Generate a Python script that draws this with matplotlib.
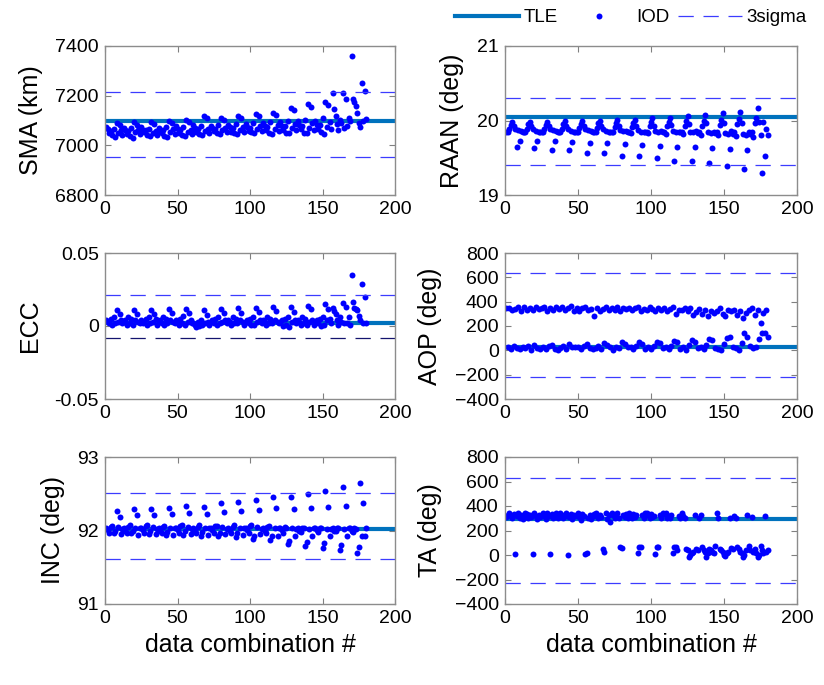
import numpy as np
import matplotlib
matplotlib.use("Agg")
import matplotlib.pyplot as plt
from matplotlib.lines import Line2D

plt.rcParams['font.family'] = ['Liberation Sans', 'DejaVu Sans']
plt.rcParams['lines.scale_dashes'] = False

# IOD estimates, 15 groups of 12 data combinations each
sma = [
    [7072, 7064, 7050, 7058, 7040, 7066, 7034, 7088, 7048, 7080, 7060, 7042],
    [7068, 7060, 7046, 7056, 7036, 7070, 7030, 7092, 7052, 7082, 7062, 7044],
    [7074, 7062, 7052, 7060, 7042, 7066, 7036, 7094, 7050, 7086, 7058, 7040],
    [7070, 7058, 7048, 7062, 7038, 7072, 7032, 7098, 7054, 7088, 7064, 7046],
    [7076, 7066, 7050, 7060, 7040, 7074, 7036, 7104, 7052, 7094, 7062, 7044],
    [7080, 7070, 7054, 7064, 7046, 7076, 7040, 7118, 7058, 7110, 7066, 7050],
    [7078, 7068, 7056, 7066, 7048, 7080, 7044, 7112, 7060, 7104, 7070, 7052],
    [7082, 7072, 7054, 7068, 7050, 7084, 7046, 7118, 7062, 7110, 7072, 7054],
    [7086, 7074, 7058, 7070, 7052, 7088, 7048, 7126, 7064, 7118, 7076, 7056],
    [7088, 7076, 7060, 7072, 7050, 7092, 7046, 7132, 7066, 7124, 7080, 7058],
    [7092, 7078, 7062, 7076, 7048, 7098, 7050, 7152, 7068, 7142, 7084, 7060],
    [7096, 7080, 7064, 7078, 7050, 7104, 7048, 7166, 7070, 7156, 7088, 7062],
    [7100, 7082, 7066, 7080, 7052, 7110, 7046, 7176, 7072, 7162, 7092, 7064],
    [7212, 7145, 7120, 7084, 7062, 7104, 7090, 7212, 7070, 7188, 7076, 7110],
    [7100, 7360, 7188, 7175, 7160, 7130, 7090, 7075, 7252, 7100, 7219, 7106],
]
raan = [
    [19.85, 19.84, 19.88, 19.94, 19.98, 19.93, 19.89, 19.64, 19.87, 19.73, 19.86, 19.85],
    [19.84, 19.85, 19.89, 19.95, 19.98, 19.92, 19.88, 19.63, 19.86, 19.73, 19.85, 19.84],
    [19.85, 19.84, 19.88, 19.94, 19.98, 19.93, 19.89, 19.61, 19.87, 19.73, 19.86, 19.85],
    [19.84, 19.85, 19.89, 19.95, 19.99, 19.92, 19.88, 19.60, 19.86, 19.71, 19.85, 19.84],
    [19.85, 19.84, 19.90, 19.95, 19.99, 19.93, 19.89, 19.57, 19.87, 19.70, 19.86, 19.85],
    [19.84, 19.85, 19.90, 19.96, 20.00, 19.92, 19.88, 19.57, 19.86, 19.70, 19.85, 19.84],
    [19.85, 19.84, 19.91, 19.96, 20.01, 19.93, 19.87, 19.53, 19.86, 19.68, 19.86, 19.84],
    [19.84, 19.83, 19.91, 19.97, 20.01, 19.92, 19.87, 19.52, 19.85, 19.67, 19.85, 19.85],
    [19.85, 19.83, 19.92, 19.98, 20.03, 19.93, 19.86, 19.49, 19.85, 19.66, 19.86, 19.84],
    [19.84, 19.82, 19.92, 19.98, 20.04, 19.94, 19.86, 19.46, 19.84, 19.65, 19.85, 19.84],
    [19.85, 19.82, 19.93, 20.00, 20.06, 19.95, 19.85, 19.46, 19.84, 19.65, 19.86, 19.83],
    [19.84, 19.81, 19.93, 20.00, 20.08, 19.96, 19.84, 19.43, 19.83, 19.63, 19.85, 19.83],
    [19.85, 19.80, 19.94, 20.01, 20.10, 19.97, 19.83, 19.39, 19.82, 19.62, 19.86, 19.82],
    [19.84, 19.79, 19.95, 20.02, 20.12, 19.97, 19.82, 19.35, 19.81, 19.60, 19.85, 19.82],
    [19.85, 19.78, 19.96, 20.03, 20.17, 19.98, 19.80, 19.29, 19.98, 19.53, 19.88, 19.80],
]
ecc = [
    [0.004, 0.003, 0.002, 0.005, 0.001, 0.006, 0.002, 0.0107, 0.003, 0.008, 0.004, 0.002],
    [0.003, 0.004, 0.001, 0.006, 0.002, 0.005, 0.001, 0.0109, 0.004, 0.0085, 0.003, 0.002],
    [0.004, 0.002, 0.003, 0.005, 0.001, 0.006, 0.002, 0.0109, 0.003, 0.0082, 0.005, 0.001],
    [0.003, 0.004, 0.002, 0.006, 0.001, 0.005, 0.002, 0.0114, 0.004, 0.0088, 0.003, 0.002],
    [0.004, 0.003, 0.001, 0.005, 0.002, 0.007, 0.001, 0.0116, 0.003, 0.0086, 0.004, 0.002],
    [0.002, 0.001, -0.001, 0.003, 0.000, 0.004, 0.001, 0.0108, 0.002, 0.0075, 0.003, 0.001],
    [0.003, 0.004, 0.002, 0.005, 0.001, 0.006, 0.002, 0.0118, 0.003, 0.009, 0.004, 0.002],
    [0.004, 0.003, 0.001, 0.006, 0.002, 0.005, 0.002, 0.012, 0.004, 0.0092, 0.003, 0.001],
    [0.003, 0.004, 0.002, 0.005, 0.001, 0.006, 0.001, 0.0125, 0.003, 0.0095, 0.004, 0.002],
    [0.004, 0.003, 0.001, 0.006, 0.002, 0.005, 0.002, 0.013, 0.004, 0.010, 0.003, 0.002],
    [0.003, 0.004, 0.000, 0.005, 0.001, 0.006, -0.001, 0.0132, 0.003, 0.0098, 0.004, 0.002],
    [0.004, 0.003, 0.001, 0.006, 0.002, 0.005, 0.001, 0.0139, 0.003, 0.0115, 0.004, 0.001],
    [0.003, 0.004, 0.002, 0.005, 0.000, 0.006, 0.001, 0.0148, 0.004, 0.0118, 0.005, 0.002],
    [0.0125, 0.0105, 0.008, 0.004, 0.001, 0.006, 0.003, 0.016, 0.002, 0.0133, 0.002, 0.006],
    [0.001, 0.0348, 0.0166, 0.0125, 0.0117, 0.011, 0.007, 0.004, 0.0291, 0.002, 0.020, 0.002],
]
aop = [
    [350, 30, 345, 10, 330, 35, 340, 22, 360, 8, 325, 28],
    [355, 18, 335, 32, 345, 5, 330, 40, 360, 20, 340, 10],
    [345, 28, 360, 12, 325, 35, 350, 42, 335, 15, 355, 5],
    [340, 20, 355, 35, 330, 8, 345, 48, 365, 25, 320, 30],
    [350, 30, 325, 15, 345, 38, 355, 55, 335, 20, 340, 10],
    [280, 22, 345, 35, 320, 12, 340, 60, 355, 45, 330, 28],
    [345, 5, 335, 30, 360, 18, 325, 65, 345, 50, 340, 25],
    [350, 30, 330, 10, 345, 38, 360, 70, 320, 55, 340, 15],
    [335, 25, 355, 8, 340, 35, 325, 72, 350, 60, 330, 20],
    [345, 30, 320, 12, 340, 38, 355, 80, 300, 65, 335, 10],
    [330, 25, 350, 5, 320, 40, 345, 86, 290, 72, 315, 18],
    [340, 30, 300, 10, 335, 45, 280, 90, 320, 86, 310, 20],
    [325, 15, 345, 4, 300, 50, 280, 100, 330, 113, 320, 30],
    [335, 20, 290, 4, 320, 60, 263, 146, 310, 113, 330, 35],
    [345, 20, 290, 30, 335, 90, 222, 146, 310, 146, 330, 108],
]
inc = [
    [92.03, 92.01, 91.97, 92.05, 92.06, 91.96, 91.99, 92.26, 92.05, 92.18, 91.95, 92.02],
    [92.04, 92.00, 91.96, 92.05, 92.07, 91.96, 92.00, 92.29, 92.04, 92.21, 91.94, 92.03],
    [92.03, 92.01, 91.97, 92.06, 92.07, 91.95, 91.99, 92.29, 92.05, 92.21, 91.95, 92.02],
    [92.04, 92.00, 91.96, 92.05, 92.06, 91.94, 91.98, 92.31, 92.04, 92.23, 91.94, 92.03],
    [92.03, 92.01, 91.97, 92.06, 92.07, 91.94, 91.99, 92.33, 92.05, 92.24, 91.95, 92.02],
    [92.04, 92.00, 91.96, 92.05, 92.07, 91.93, 91.98, 92.32, 92.04, 92.23, 91.94, 92.03],
    [92.03, 92.01, 91.97, 92.06, 92.06, 91.92, 91.97, 92.37, 92.05, 92.25, 91.95, 92.02],
    [92.04, 92.00, 91.96, 92.05, 92.07, 91.91, 91.97, 92.39, 92.04, 92.26, 91.94, 92.03],
    [92.03, 92.01, 91.97, 92.06, 92.07, 91.88, 91.93, 92.42, 92.05, 92.28, 91.95, 92.02],
    [92.04, 92.00, 91.96, 92.05, 92.06, 91.87, 91.92, 92.45, 92.04, 92.30, 91.93, 92.03],
    [92.03, 92.01, 91.97, 92.05, 92.04, 91.81, 91.86, 92.45, 92.03, 92.29, 91.93, 92.02],
    [92.04, 92.00, 91.98, 92.04, 92.03, 91.79, 91.85, 92.49, 92.02, 92.30, 91.93, 92.03],
    [92.03, 92.01, 91.98, 92.04, 92.03, 91.76, 91.83, 92.54, 92.02, 92.32, 91.93, 92.02],
    [92.04, 92.00, 91.99, 92.03, 92.04, 91.73, 91.80, 92.59, 92.02, 92.34, 91.93, 92.03],
    [92.03, 92.00, 91.98, 92.03, 92.02, 91.69, 91.77, 92.65, 91.93, 92.38, 91.93, 92.03],
]
ta = [
    [310, 330, 345, 320, 300, 335, 5, 315, 340, 305, 325, 295],
    [320, 345, 335, 300, 325, 310, 5, 340, 320, 295, 330, 310],
    [330, 340, 315, 295, 345, 320, 5, 335, 305, 325, 340, 300],
    [315, 345, 330, 300, 320, 340, 0, 310, 335, 295, 325, 315],
    [325, 340, 310, 285, 335, 320, 5, 15, 300, 330, 295, 320],
    [335, 345, 315, 300, 330, 310, 46, 27, 340, 295, 325, 270],
    [340, 330, 305, 320, 345, 300, 67, 60, 325, 310, 335, 300],
    [345, 320, 300, 335, 310, 325, 13, 67, 65, 330, 305, 340],
    [340, 325, 300, 335, 310, 320, 10, 67, 65, 330, 300, 345],
    [335, 345, 305, 320, 300, 330, 20, 67, 65, 40, 320, 300],
    [340, 320, 300, 53, 40, -14, 0, 13, 27, 325, 53, 40],
    [300, 325, 67, 40, 27, -14, 13, 53, 40, 27, 13, 75],
    [340, 300, 53, 40, 27, 0, -10, 13, 27, 305, 60, 53],
    [320, 300, 67, 53, 27, 13, -14, 0, 40, 330, 75, 40],
    [310, 27, 53, 13, -14, 0, 75, 40, 13, 320, 27, 40],
]

# TLE reference values and 3-sigma bounds
tle = {'sma': 7097, 'raan': 20.05, 'ecc': 0.0018, 'aop': 26, 'inc': 92.02, 'ta': 297}
sig_lo = {'sma': 6955, 'raan': 19.40, 'ecc': -0.0082, 'aop': -219, 'inc': 91.61, 'ta': -226}
sig_hi = {'sma': 7215, 'raan': 20.30, 'ecc': 0.0209, 'aop': 636, 'inc': 92.51, 'ta': 629}

panels = [
    ('sma', sma, 'SMA (km)', (6800, 7400), [6800, 7000, 7200, 7400], None),
    ('raan', raan, 'RAAN (deg)', (19, 21), [19, 20, 21], None),
    ('ecc', ecc, 'ECC', (-0.05, 0.05), [-0.05, 0, 0.05], ['-0.05', '0', '0.05']),
    ('aop', aop, 'AOP (deg)', (-400, 800), [-400, -200, 0, 200, 400, 600, 800], None),
    ('inc', inc, 'INC (deg)', (91, 93), [91, 92, 93], None),
    ('ta', ta, 'TA (deg)', (-400, 800), [-400, -200, 0, 200, 400, 600, 800], None),
]

W, H = 824, 685
fig = plt.figure(figsize=(W / 100, H / 100), dpi=100)

col_x = [(105, 290), (505, 292)]
row_y = [(46, 195), (253, 399), (457, 604)]

tle_c = '#0072BD'
iod_c = '#0000ff'
sig_c = '#3c3cff'

for i, (key, vals, ylab, ylim, yt, ytl) in enumerate(panels):
    r, c = divmod(i, 2)
    x0, w = col_x[c]
    top, bot = row_y[r]
    ax = fig.add_axes([x0 / W, 1 - bot / H, w / W, (bot - top) / H])
    y = np.ravel(vals)
    x = np.arange(1, len(y) + 1)
    ax.axhline(tle[key], color=tle_c, lw=3)
    ax.plot(x, y, 'o', color=iod_c, ms=4.3, mew=0)
    ax.axhline(sig_hi[key], color=sig_c, lw=0.9, dashes=(11, 7))
    lo_c = '#14146e' if key == 'ecc' else sig_c
    ax.axhline(sig_lo[key], color=lo_c, lw=0.9, dashes=(11, 7))
    ax.set_xlim(0, 200)
    ax.set_ylim(*ylim)
    ax.set_xticks([0, 50, 100, 150, 200])
    ax.set_yticks(yt)
    if ytl:
        ax.set_yticklabels(ytl)
    ax.set_ylabel(ylab, fontsize=18, labelpad=9)
    if r == 2:
        ax.set_xlabel('data combination #', fontsize=18, labelpad=4)
    ax.tick_params(direction='in', top=True, right=True, labelsize=14,
                   length=4, color='#808080', width=0.8, pad=4.5)
    for s in ax.spines.values():
        s.set_color('#8c8c8c')
        s.set_linewidth(1)

handles = [
    Line2D([], [], color=tle_c, lw=3),
    Line2D([], [], color=iod_c, marker='o', ls='none', ms=4.3, mew=0),
    Line2D([], [], color=sig_c, lw=0.9, dashes=(11, 7)),
]
fig.legend(handles, ['TLE', 'IOD', '3sigma'], loc='center', ncol=3,
           bbox_to_anchor=(0.766, 0.974), frameon=False, fontsize=13.5,
           handlelength=3.4, handletextpad=0.25, columnspacing=0.5)

fig.savefig('out.png', dpi=100)
